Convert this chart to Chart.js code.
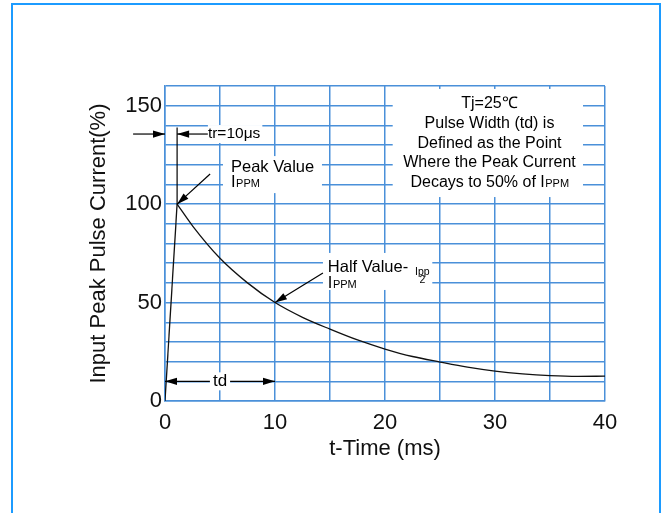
<!DOCTYPE html>
<html>
<head>
<meta charset="utf-8">
<script src="https://cdn.jsdelivr.net/npm/chart.js@4.4.1/dist/chart.umd.min.js"></script>
<style>
  html, body { margin: 0; padding: 0; background: #fff; }
  #wrap { position: relative; width: 664px; height: 513px; overflow: hidden; }
  #frame { position: absolute; left: 11px; top: 3px; width: 646px; height: 600px;
           border: 2px solid #1c9bff; border-bottom: none; }
  canvas { position: absolute; left: 0; top: 0; }
</style>
</head>
<body>
<div id="wrap">
  <div id="frame"></div>
  <canvas id="pulseChart" width="664" height="513"></canvas>
</div>
<script>
  const FONT = "'Liberation Sans', Arial, sans-serif";
  const GRID = '#4a90d9';

  // rise (front edge) and decay of the pulse
  const riseTime = [0, 1.1];
  const riseCurrent = [0, 100];
  const decayTime = [1.1, 2.5, 5, 7.5, 10, 12.5, 15, 17.5, 20, 22.5, 25, 27.5, 30, 32.5, 35, 37.5, 40];
  const decayCurrent = [100, 89, 72.5, 60, 50, 42.5, 36.5, 31, 26.4, 22.6, 19.8, 17.2, 15.2, 13.8, 12.9, 12.5, 12.6];

  const xTickLabels = [0, 10, 20, 30, 40];
  const yTickLabels = [0, 50, 100, 150];

  const noteLines = ['Tj=25\u2103', 'Pulse Width (td) is', 'Defined as the Point', 'Where the Peak Current', 'Decays to 50% of I'];

  const toPoints = (xs, ys) => xs.map((v, i) => ({ x: v, y: ys[i] }));

  function arrow(ctx, x1, y1, x2, y2) {
    const a = Math.atan2(y2 - y1, x2 - x1), L = 12, W = 3.6;
    ctx.beginPath(); ctx.moveTo(x1, y1); ctx.lineTo(x2, y2); ctx.stroke();
    ctx.beginPath();
    ctx.moveTo(x2, y2);
    ctx.lineTo(x2 - L * Math.cos(a) + W * Math.sin(a), y2 - L * Math.sin(a) - W * Math.cos(a));
    ctx.lineTo(x2 - L * Math.cos(a) - W * Math.sin(a), y2 - L * Math.sin(a) + W * Math.cos(a));
    ctx.closePath(); ctx.fill();
  }

  // "I" with small "PPM"
  function ippm(ctx, px, py, big, small) {
    ctx.font = big + 'px ' + FONT;
    ctx.fillText('I', px, py);
    const w = ctx.measureText('I').width;
    ctx.font = small + 'px ' + FONT;
    ctx.fillText('PPM', px + w + 0.5, py);
  }

  const notes = {
    id: 'notes',
    afterDatasetsDraw(chart) {
      const { ctx, scales: { x, y } } = chart;
      const X = v => x.getPixelForValue(v), Y = v => y.getPixelForValue(v);
      ctx.save();
      ctx.fillStyle = '#000'; ctx.strokeStyle = '#000'; ctx.lineWidth = 1.2;
      ctx.textAlign = 'left'; ctx.textBaseline = 'alphabetic';

      // top right note box
      ctx.fillStyle = '#fff';
      ctx.fillRect(X(20.7), Y(158.5), X(38) - X(20.7), Y(103.6) - Y(158.5));
      ctx.fillStyle = '#000';
      ctx.textAlign = 'center';
      noteLines.forEach((s, i) => {
        ctx.font = '16px ' + FONT;
        const by = Y(148.7 - i * 10.03);
        if (i === noteLines.length - 1) {
          const w1 = ctx.measureText(s).width;
          ctx.font = '11px ' + FONT;
          const w2 = ctx.measureText('PPM').width;
          const left = X(29.5) - (w1 + w2) / 2;
          ctx.textAlign = 'left';
          ctx.font = '16px ' + FONT;
          ctx.fillText(s, left, by);
          ctx.font = '11px ' + FONT;
          ctx.fillText('PPM', left + w1 + 0.5, by);
          ctx.textAlign = 'center';
        } else {
          ctx.fillText(s, X(29.5), by);
        }
      });
      ctx.textAlign = 'left';

      // tr = 10us marker
      ctx.beginPath(); ctx.moveTo(X(1.1), Y(138.9)); ctx.lineTo(X(1.1), Y(100)); ctx.stroke();
      arrow(ctx, X(-2.9), Y(135.6), X(0), Y(135.6));
      arrow(ctx, X(3.9), Y(135.6), X(1.1), Y(135.6));
      ctx.font = '15.5px ' + FONT;
      ctx.textBaseline = 'middle';
      const trw = ctx.measureText('tr=10\u03bcs').width;
      ctx.fillStyle = '#fff';
      ctx.fillRect(X(3.9), Y(135.6) - 9, trw + 2, 18);
      ctx.fillStyle = '#000';
      ctx.fillText('tr=10\u03bcs', X(3.9), Y(135.6));
      ctx.textBaseline = 'alphabetic';

      // peak value
      ctx.fillStyle = '#fff';
      ctx.fillRect(X(5.27), Y(124.4), X(14.27) - X(5.27), Y(105.6) - Y(124.4));
      ctx.fillStyle = '#000';
      ctx.font = '16.5px ' + FONT;
      ctx.fillText('Peak Value', X(6), Y(116.3));
      ippm(ctx, X(6), Y(108.5), 16.5, 11);
      arrow(ctx, X(4.1), Y(115.3), X(riseTime[1]), Y(riseCurrent[1]));

      // half value
      ctx.fillStyle = '#fff';
      ctx.fillRect(X(14.36), Y(75.2), X(24.3) - X(14.36), Y(56.4) - Y(75.2));
      ctx.fillStyle = '#000';
      ctx.font = '16.5px ' + FONT;
      ctx.fillText('Half Value-', X(14.8), Y(65.5));
      ippm(ctx, X(14.8), Y(57.5), 16.5, 11);
      ctx.textAlign = 'center';
      ctx.font = '10.5px ' + FONT;
      ctx.fillText('Ipp', X(23.4), Y(64));
      ctx.fillText('2', X(23.4), Y(59.9));
      ctx.textAlign = 'left';
      arrow(ctx, X(14.36), Y(65), X(10), Y(50));

      // td marker
      arrow(ctx, X(5), Y(10), X(0), Y(10));
      arrow(ctx, X(5), Y(10), X(10), Y(10));
      ctx.font = '17px ' + FONT;
      ctx.textAlign = 'center'; ctx.textBaseline = 'middle';
      const tdw = ctx.measureText('td').width;
      ctx.fillStyle = '#fff';
      ctx.fillRect(X(5) - tdw / 2 - 3, Y(10) - 9, tdw + 6, 18);
      ctx.fillStyle = '#000';
      ctx.fillText('td', X(5), Y(10));
      ctx.restore();
    }
  };

  const ctx = document.getElementById('pulseChart').getContext('2d');

  new Chart(ctx, {
    type: 'line',
    data: {
      datasets: [{
        label: 'rise',
        data: toPoints(riseTime, riseCurrent),
        borderColor: '#111',
        borderWidth: 1.3,
        pointRadius: 0
      }, {
        label: 'decay',
        data: toPoints(decayTime, decayCurrent),
        borderColor: '#111',
        borderWidth: 1.3,
        pointRadius: 0,
        cubicInterpolationMode: 'monotone'
      }]
    },
    options: {
      responsive: false,
      animation: false,
      layout: { padding: { top: 86, right: 59, bottom: 0, left: 0 } },
      plugins: { legend: { display: false }, tooltip: { enabled: false } },
      scales: {
        x: {
          type: 'linear',
          min: 0, max: 40,
          afterFit(scale) { scale.height = 112; },
          grid: { color: GRID, lineWidth: 1.5, drawTicks: false },
          border: { color: GRID, width: 1.5 },
          ticks: {
            stepSize: 5, autoSkip: false, maxRotation: 0, padding: 9,
            color: '#111', font: { family: FONT, size: 22 },
            callback: v => xTickLabels.includes(v) ? v : ''
          },
          title: {
            display: true, text: 't-Time (ms)', color: '#111',
            font: { family: FONT, size: 22 }, padding: { top: 0, bottom: 51 }
          }
        },
        y: {
          min: 0, max: 160,
          afterFit(scale) { scale.width = 165; },
          grid: { color: GRID, lineWidth: 1.5, drawTicks: false },
          border: { color: GRID, width: 1.5 },
          ticks: {
            stepSize: 10, autoSkip: false, padding: 3,
            color: '#111', font: { family: FONT, size: 22 },
            callback: v => yTickLabels.includes(v) ? v : ''
          },
          title: {
            display: true, text: 'Input Peak Pulse Current(%)', color: '#111',
            font: { family: FONT, size: 22 }, padding: { top: 86, bottom: 0 }
          }
        }
      }
    },
    plugins: [notes]
  });
</script>
</body>
</html>
